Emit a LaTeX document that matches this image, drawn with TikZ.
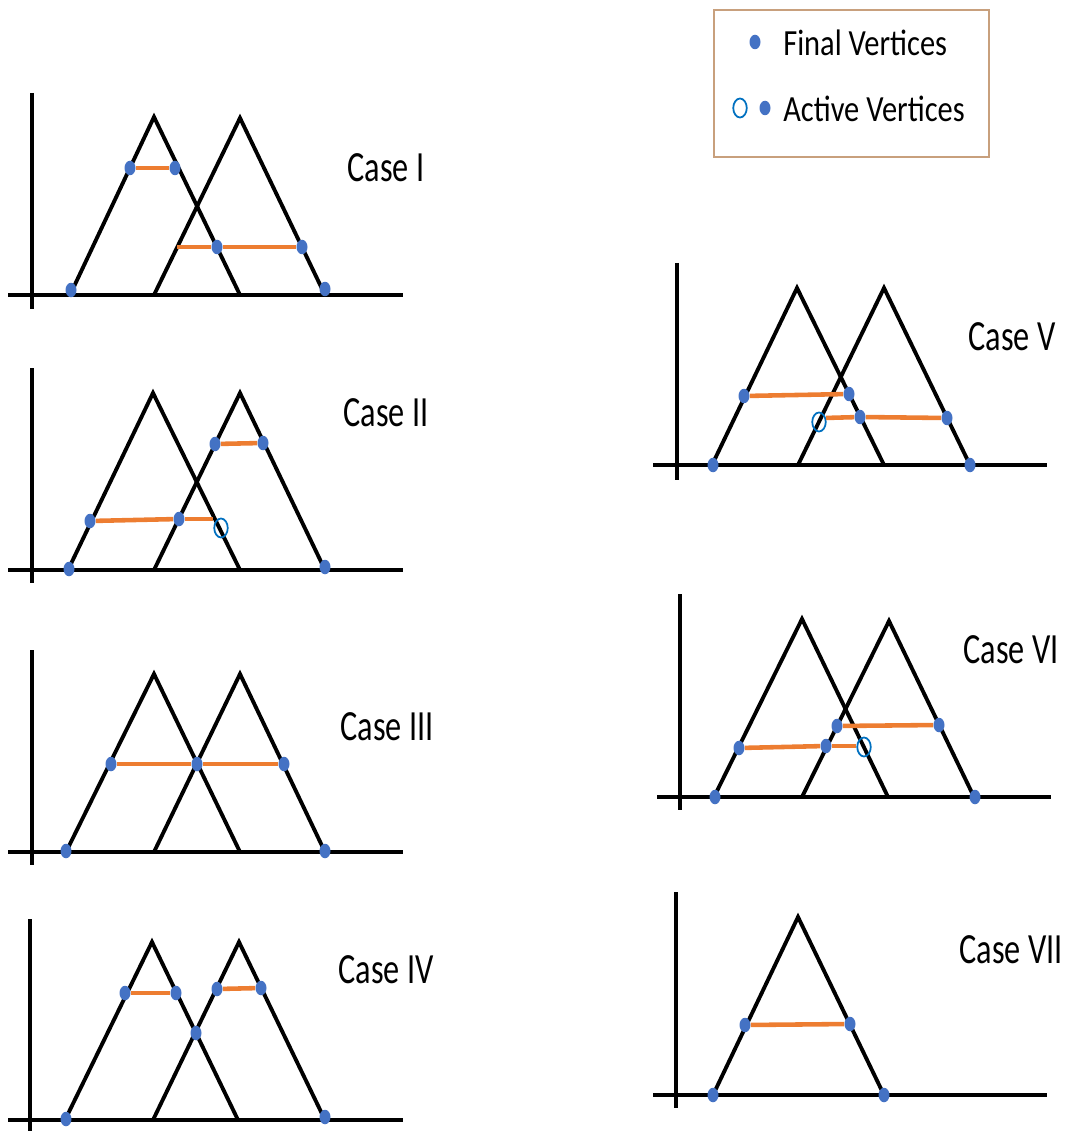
\documentclass[tikz,border=0pt]{standalone}
\usepackage{fontspec}
\setmainfont{Carlito}
\usetikzlibrary{shapes.geometric}
\definecolor{dotblue}{RGB}{68,114,196}
\definecolor{segorange}{RGB}{237,125,49}
\definecolor{ringblue}{RGB}{0,112,192}
\definecolor{boxtan}{RGB}{200,160,125}

\begin{document}
\begin{tikzpicture}[x=0.02cm, y=-0.02cm,
  axis/.style={line width=2.2pt},
  tri/.style={line width=2.2pt, line join=miter},
  seg/.style={draw=segorange, line width=2.6pt},
  fv/.style={ellipse, fill=dotblue, inner sep=0pt, minimum width=0.22cm, minimum height=0.29cm},
  av/.style={ellipse, draw=ringblue, line width=1pt, inner sep=0pt, minimum width=0.27cm, minimum height=0.38cm},
  case/.style={font=\fontsize{24.5}{29}\selectfont, xscale=0.75, transform shape, inner sep=0pt},
  legtext/.style={font=\fontsize{21}{25}\selectfont, xscale=0.825, transform shape, inner sep=0pt, anchor=west}]

\useasboundingbox (0,0) rectangle (1069,1131);

% legend
\draw[boxtan, line width=0.6pt] (714,10) rectangle (989,157);
\node[fv] (lf) at (755,42) {};
\node[legtext] (lft) at (783,43) {Final Vertices};
\node[av] (la) at (740,108) {};
\node[fv] (lb) at (765,108) {};
\node[legtext] (lat) at (783,109) {Active Vertices};

% Case I
\draw[axis] (32,93) -- (32,309);
\draw[axis] (8,295) -- (403,295);
\draw[tri] (70,295) -- (154,117) -- (240,295);
\draw[tri] (154,295) -- (240,118) -- (325,295);
\node[fv] (a1) at (71,290) {};
\node[fv] (a2) at (130,168) {};
\node[fv] (a3) at (175,168) {};
\node[fv] (a4) at (217,247) {};
\node[fv] (a5) at (302,247) {};
\node[fv] (a6) at (325,289) {};
\coordinate (a0) at (177,247);
\draw[seg] (a2) -- (a3);
\draw[seg] (a0) -- (a4);
\draw[seg] (a4) -- (a5);
\node[case] (c1) at (386,168) {Case I};

% Case II
\draw[axis] (32,368) -- (32,583);
\draw[axis] (8,570) -- (403,570);
\draw[tri] (68,570) -- (153,393) -- (240,570);
\draw[tri] (154,570) -- (240,393) -- (325,570);
\node[fv] (b1) at (69,569) {};
\node[fv] (b2) at (90,521) {};
\node[fv] (b3) at (179,519) {};
\node[fv] (b4) at (215,444) {};
\node[fv] (b5) at (263,443) {};
\node[fv] (b6) at (325,567) {};
\node[av] (b7) at (221,528) {};
\draw[seg] (b4) -- (b5);
\draw[seg] (b2) -- (b3);
\draw[seg] (b3) -- (b3 -| b7.west);
\node[case] (c2) at (386,413) {Case II};

% Case III
\draw[axis] (32,650) -- (32,865);
\draw[axis] (8,852) -- (403,852);
\draw[tri] (66,852) -- (154,674) -- (240,852);
\draw[tri] (154,852) -- (240,674) -- (325,852);
\node[fv] (d1) at (66,851) {};
\node[fv] (d2) at (111,764) {};
\node[fv] (d3) at (197,764) {};
\node[fv] (d4) at (284,764) {};
\node[fv] (d5) at (325,851) {};
\draw[seg] (d2) -- (d3);
\draw[seg] (d3) -- (d4);
\node[case] (c3) at (387,727) {Case III};

% Case IV
\draw[axis] (30,919) -- (30,1131);
\draw[axis] (8,1120) -- (403,1120);
\draw[tri] (65,1120) -- (152,942) -- (238,1120);
\draw[tri] (153,1120) -- (239,942) -- (325,1120);
\node[fv] (h1) at (66,1119) {};
\node[fv] (h2) at (125,993) {};
\node[fv] (h3) at (176,993) {};
\node[fv] (h4) at (217,989) {};
\node[fv] (h5) at (261,988) {};
\node[fv] (h6) at (196,1033) {};
\node[fv] (h7) at (325,1117) {};
\draw[seg] (h2) -- (h3);
\draw[seg] (h4) -- (h5);
\node[case] (c4) at (386,970) {Case IV};

% Case V
\draw[axis] (677,263) -- (677,480);
\draw[axis] (653,465) -- (1047,465);
\draw[tri] (712,465) -- (797,288) -- (884,465);
\draw[tri] (798,465) -- (884,288) -- (970,465);
\node[fv] (e1) at (713,465) {};
\node[fv] (e2) at (744,396) {};
\node[fv] (e3) at (849,394) {};
\node[fv] (e4) at (860,417) {};
\node[fv] (e5) at (947,418) {};
\node[fv] (e6) at (970,465) {};
\node[av] (e7) at (819,422) {};
\draw[seg] (e2) -- (e3);
\draw[seg] (e7.30) -- (e4);
\draw[seg] (e4) -- (e5);
\node[case] (c5) at (1012,337) {Case V};

% Case VI
\draw[axis] (680,594) -- (680,810);
\draw[axis] (657,797) -- (1051,797);
\draw[tri] (714,797) -- (802,619) -- (888,797);
\draw[tri] (802,797) -- (889,621) -- (974,797);
\node[fv] (f1) at (715,797) {};
\node[fv] (f2) at (739,748) {};
\node[fv] (f3) at (826,746) {};
\node[fv] (f4) at (837,726) {};
\node[fv] (f5) at (939,725) {};
\node[fv] (f6) at (975,797) {};
\node[av] (f7) at (864,747) {};
\draw[seg] (f2) -- (f3);
\draw[seg] (f3) -- (f3 -| f7.west);
\draw[seg] (f4) -- (f5);
\node[case] (c6) at (1011,650) {Case VI};

% Case VII
\draw[axis] (676,892) -- (676,1108);
\draw[axis] (653,1095) -- (1047,1095);
\draw[tri] (713,1095) -- (798,917) -- (884,1095);
\node[fv] (g1) at (713,1095) {};
\node[fv] (g2) at (745,1025) {};
\node[fv] (g3) at (850,1024) {};
\node[fv] (g4) at (884,1095) {};
\draw[seg] (g2) -- (g3);
\node[case] (c7) at (1011,950) {Case VII};

\end{tikzpicture}
\end{document}
